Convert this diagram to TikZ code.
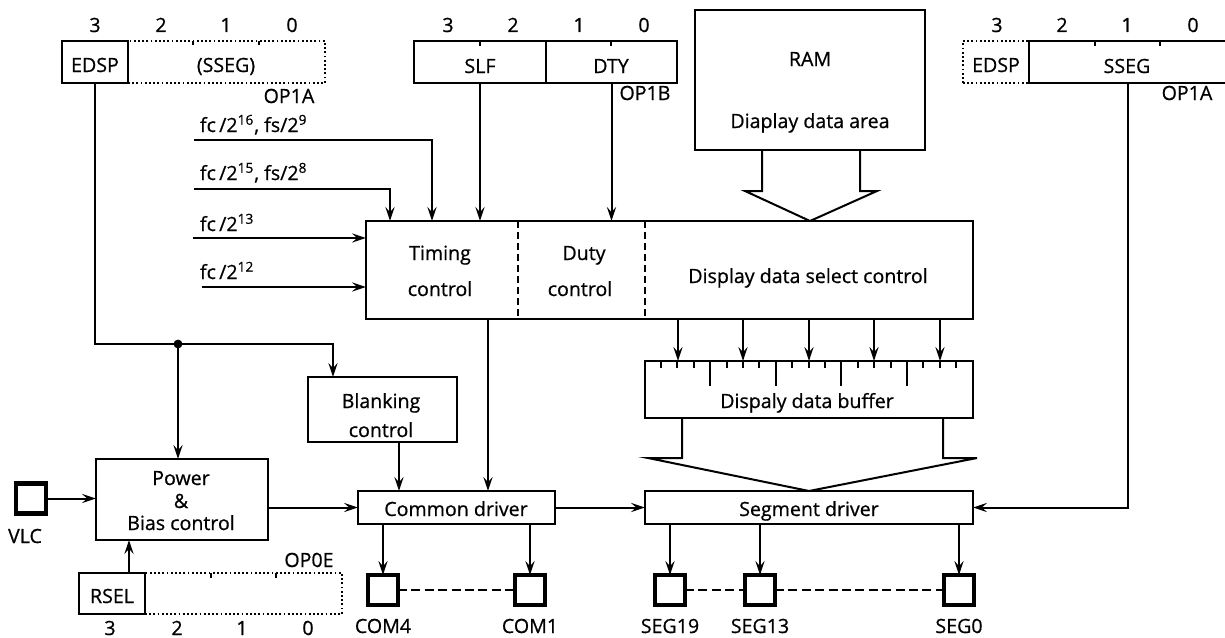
\documentclass[tikz,border=0pt]{standalone}
\usepackage{fontspec}
\setmainfont{Open Sans}[FakeBold=0.7]
\usetikzlibrary{arrows.meta,calc}
\begin{document}
\begin{tikzpicture}[x=0.5pt,y=-0.5pt,
  font=\fontsize{9.8}{11}\selectfont,
  every node/.style={inner sep=0pt, outer sep=0pt},
  box/.style={draw, line width=1pt},
  dbox/.style={draw, line width=1pt, dash pattern=on 0.9pt off 1.2pt},
  sz/.style 2 args={minimum width=#1*0.5pt, minimum height=#2*0.5pt},
  pad/.style={draw, line width=2.1pt, minimum size=15pt},
  conn/.style={line width=1pt},
  arr/.style={conn, -{Stealth[length=7pt,width=4.6pt,inset=2.6pt]}},
  txt/.style={anchor=base},
  divline/.style={line width=1pt, dash pattern=on 3.5pt off 2pt},
  pdash/.style={line width=1pt, dash pattern=on 4.5pt off 2.2pt},
  tick/.style={line width=1pt}]
\clip (0,0) rectangle (1225,637);

% ---------- left register OP1A ----------
\node[box, sz={66}{42}] (edspL) at (95,62) {};
\node[dbox, sz={197}{42}] (ssegL) at (226.5,62) {};
\node[txt] (edspLt) at (95,72) {EDSP};
\node[txt] (ssegLt) at (226,72) {(SSEG)};
\node[txt] (op1aL) at (289,103) {OP1A};
\draw[tick] (193,41) -- (193,45) (259,41) -- (259,45);
\foreach \d/\x in {3/95,2/161,1/226,0/292}
  \node[txt] (bl\d) at (\x,32) {\d};

% ---------- OP1B ----------
\node[box, sz={132}{42}] (slf) at (480,62) {};
\node[box, sz={131}{42}] (dty) at (611.5,62) {};
\node[txt] (slft) at (480,73) {SLF};
\node[txt] (dtyt) at (611,73) {DTY};
\node[txt] (op1b) at (645,100) {OP1B};
\draw[tick] (480,41) -- (480,46) (611,41) -- (611,46);
\foreach \d/\x in {3/448,2/513,1/579,0/644}
  \node[txt] (bm\d) at (\x,32) {\d};

% ---------- RAM ----------
\node[box, sz={230}{140}] (ram) at (810,80) {};
\node[txt] (ramt) at (810,66) {RAM};
\node[txt] (ramt2) at (810,128) {Diaplay data area};

% ---------- right register OP1A ----------
\node[dbox, sz={66}{42}] (edspR) at (996,62) {};
\node[box, sz={197}{42}] (ssegR) at (1127.5,62) {};
\node[txt] (edspRt) at (996,72) {EDSP};
\node[txt] (ssegRt) at (1127,73) {SSEG};
\node[txt] (op1aR) at (1187,100) {OP1A};
\draw[tick] (1095,41) -- (1095,46) (1160,41) -- (1160,46);
\foreach \d/\x in {3/997,2/1062,1/1127,0/1193}
  \node[txt] (br\d) at (\x,32) {\d};

% ---------- control block ----------
\node[box, sz={607}{98}] (ctrl) at (669.5,270) {};
\draw[divline] (518,221) -- (518,319) (645,221) -- (645,319);
\node[txt] (tim1) at (440,260) {Timing};
\node[txt] (tim2) at (440,296) {control};
\node[txt] (dut1) at (584,260) {Duty};
\node[txt] (dut2) at (580,296) {control};
\node[txt] (dsel) at (808,283) {Display data select control};

% ---------- buffer ----------
\node[box, sz={328}{57}] (buffer) at (809,389.5) {};
\node[txt] (buft) at (807,408) {Dispaly data buffer};
\foreach \k in {0,...,18}{
  \pgfmathsetmacro{\len}{(mod(\k,4)==3) ? 25 : 7}
  \draw[tick] ($(buffer.north west)+({16+16.4*\k},0)$) -- ++(0,\len);
}

% ---------- blanking / power ----------
\node[box, sz={149}{65}] (blank) at (382.5,409.5) {};
\node[txt] (blk1) at (381,408) {Blanking};
\node[txt] (blk2) at (381,437) {control};
\node[box, sz={172}{81}] (power) at (182,499.5) {};
\node[txt] (pw1) at (181,485) {Power};
\node[txt] (pw2) at (181,508) {\&};
\node[txt] (pw3) at (181,530) {Bias control};

% ---------- drivers ----------
\node[box, sz={197}{33}] (common) at (456.5,507.5) {};
\node[txt] (comt) at (456,516) {Common driver};
\node[box, sz={328}{33}] (segdrv) at (809,507.5) {};
\node[txt] (segt) at (809,516) {Segment driver};

% ---------- RSEL register ----------
\node[box, sz={66}{41}] (rsel) at (112,593.5) {};
\node[dbox, sz={197}{41}] (rseld) at (243.5,593.5) {};
\node[txt] (rselt) at (112,603) {RSEL};
\node[txt] (op0e) at (309,567) {OP0E};
\draw[tick] (211,573) -- (211,578) (276,573) -- (276,578);
\foreach \d/\x in {3/110,2/177,1/242,0/308}
  \node[txt] (bb\d) at (\x,635) {\d};

% ---------- pads ----------
\node[pad] (vlc) at (31,498.5) {};
\node[txt] (vlct) at (25,543) {VLC};
\foreach \n/\x/\lab in {com4/383/COM4,com1/530/COM1,seg19/670/SEG19,seg13/760/SEG13,seg0/959/SEG0}{
  \node[pad] (\n) at (\x,590) {};
  \node[txt] (\n t) at (\x,633) {\lab};
}
\draw[pdash] (com4.east) -- (com1.west);
\draw[pdash] (seg19.east) -- (seg13.west);
\draw[pdash] (seg13.east) -- (seg0.west);

% ---------- signal inputs ----------
\node[txt, anchor=base west] (f16) at (200,132) {fc\,/2\textsuperscript{16}, fs/2\textsuperscript{9}};
\node[txt, anchor=base west] (f15) at (200,180) {fc\,/2\textsuperscript{15}, fs/2\textsuperscript{8}};
\node[txt, anchor=base west] (f13) at (200,231) {fc\,/2\textsuperscript{13}};
\node[txt, anchor=base west] (f12) at (200,279) {fc\,/2\textsuperscript{12}};
\coordinate (s16) at (194,140);
\coordinate (s15) at (194,189);
\coordinate (s13) at (193,238);
\coordinate (s12) at (202,287);
\draw[arr] (s16) -| ($(ctrl.north west)+(66,0)$);
\draw[arr] (s15) -| ($(ctrl.north west)+(24,0)$);
\draw[arr] (s13) -- (ctrl.west |- s13);
\draw[arr] (s12) -- (ctrl.west |- s12);
\draw[arr] (slf.south) -- (slf.south |- ctrl.north);
\draw[arr] (dty.south) -- (dty.south |- ctrl.north);

% ---------- RAM block arrow ----------
\draw[conn, line join=miter] ($(ram.south)+(-48,0)$) -- ++(0,41) -- ++(-17,0)
   -- (ctrl.north -| ram.south) -- ($(ram.south)+(67,41)$) -- ++(-17,0) -- ($(ram.south)+(50,0)$);

% ---------- control -> buffer ----------
\foreach \i/\x in {1/678,2/743,3/809,4/874,5/940}{
  \coordinate (b\i) at (\x,0);
  \draw[arr] (ctrl.south -| b\i) -- (buffer.north -| b\i);
}

% ---------- buffer -> segment driver wedge ----------
\draw[conn, line join=miter] ($(buffer.south west)+(37,0)$) -- ++(0,40) -- ++(-34,0)
   -- (segdrv.north) -- ($(buffer.south east)+(4,40)$) -- ++(-34,0) -- ($(buffer.south east)+(-30,0)$);

% ---------- EDSP distribution ----------
\coordinate (j) at (178,344);
\coordinate (jb) at (333,344);
\draw[conn] (edspL.south) |- (j);
\draw[arr] (j) -- (jb) -- (jb |- blank.north);
\fill (j) circle (2.2pt);
\draw[arr] (j) -- (j |- power.north);

% ---------- into common driver ----------
\coordinate (tc) at ($(ctrl.south west)+(122,0)$);
\draw[arr] (tc) -- (tc |- common.north);
\coordinate (bc) at ($(blank.south)+(16.5,0)$);
\draw[arr] (bc) -- (bc |- common.north);
\draw[arr] (power.east |- common.west) -- (common.west);
\draw[arr] (vlc.east) -- (vlc.east -| power.west);
\coordinate (rs) at ($(rsel.north)+(17,0)$);
\draw[arr] (rs) -- (rs |- power.south);
\draw[arr] (common.east) -- (segdrv.west);

% ---------- drivers -> pads ----------
\draw[arr] (common.south -| com4.north) -- (com4.north);
\draw[arr] (common.south -| com1.north) -- (com1.north);
\draw[arr] (segdrv.south -| seg19.north) -- (seg19.north);
\draw[arr] (segdrv.south -| seg13.north) -- (seg13.north);
\draw[arr] (segdrv.south -| seg0.north) -- (seg0.north);

% ---------- SSEG -> segment driver ----------
\draw[arr] (ssegR.south) |- (segdrv.east);
\end{tikzpicture}
\end{document}
